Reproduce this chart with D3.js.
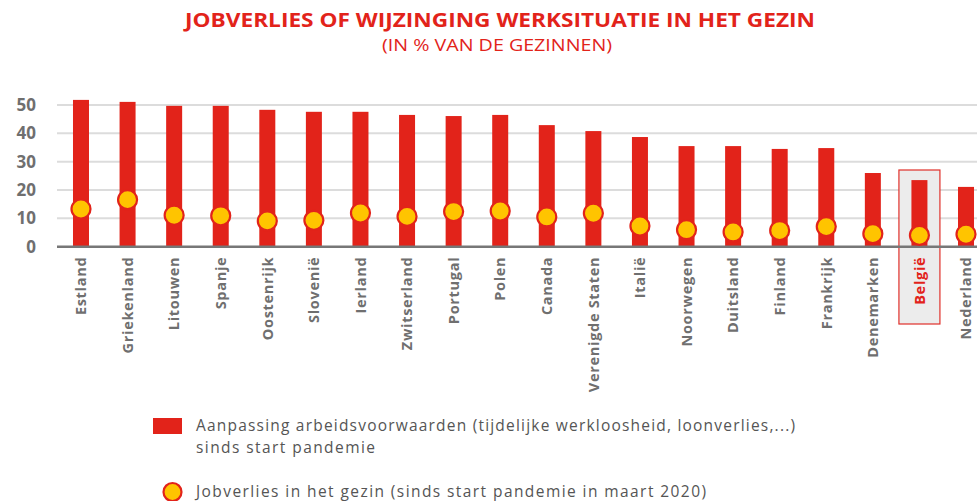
<!DOCTYPE html>
<html>
<head>
<meta charset="utf-8">
<script src="https://cdn.jsdelivr.net/npm/d3@7"></script>
<style>
  html, body { margin: 0; padding: 0; background: #fff; }
  svg { display: block; }
</style>
</head>
<body>
<svg id="chart" width="977" height="501"></svg>
<script>
const categories = ["Estland","Griekenland","Litouwen","Spanje","Oostenrijk","Slovenië","Ierland","Zwitserland","Portugal","Polen","Canada","Verenigde Staten","Italië","Noorwegen","Duitsland","Finland","Frankrijk","Denemarken","België","Nederland"];
const werkAanpassing = [51.8,51.1,49.7,49.7,48.3,47.6,47.6,46.5,46.1,46.5,42.9,40.8,38.7,35.5,35.5,34.5,34.8,26.0,23.5,21.1];
const jobverlies = [13.3,16.6,11.1,10.9,9.1,9.3,11.9,10.7,12.4,12.6,10.5,11.8,7.3,6.0,5.2,5.7,7.1,4.6,4.0,4.4];
const yTicks = [0,10,20,30,40,50];
const highlight = "België";
const title = "JOBVERLIES OF WIJZINGING WERKSITUATIE IN HET GEZIN";
const subtitle = "(IN % VAN DE GEZINNEN)";
const legendBar = ["Aanpassing arbeidsvoorwaarden (tijdelijke werkloosheid, loonverlies,...)", "sinds start pandemie"];
const legendDot = "Jobverlies in het gezin (sinds start pandemie in maart 2020)";

const RED = "#e2231a", YELLOW = "#ffc400", GREY = "#6f6f6f";
const svg = d3.select("#chart");

const x = d3.scaleBand().domain(categories).range([57.7, 989.3]).padding(0);
const y = d3.scaleLinear().domain([0, 50]).range([246.7, 105]);
const barW = 16;

// title
svg.append("text").attr("x", 500).attr("y", 27).attr("text-anchor", "middle")
  .attr("font-family", "Open Sans, sans-serif").attr("font-weight", 700).attr("font-size", 20)
  .attr("fill", RED).attr("textLength", 630).attr("lengthAdjust", "spacingAndGlyphs").text(title);
svg.append("text").attr("x", 497).attr("y", 51).attr("text-anchor", "middle")
  .attr("font-family", "Open Sans, sans-serif").attr("font-weight", 400).attr("font-size", 16.5)
  .attr("fill", RED).attr("textLength", 230).attr("lengthAdjust", "spacingAndGlyphs").text(subtitle);

// gridlines
svg.append("g").selectAll("line").data(yTicks.filter(d => d > 0)).join("line")
  .attr("x1", 57).attr("x2", 977).attr("y1", d => y(d)).attr("y2", d => y(d))
  .attr("stroke", "#dcdcdc").attr("stroke-width", 2);

// y axis labels
const yAxis = svg.append("g").attr("transform", "translate(36,0)")
  .call(d3.axisLeft(y).tickValues(yTicks).tickSize(0).tickPadding(0));
yAxis.select(".domain").remove();
yAxis.selectAll("text").attr("font-family", "Open Sans, sans-serif").attr("font-weight", 700)
  .attr("font-size", 17).attr("fill", GREY);

// highlight box
svg.append("rect")
  .attr("x", x(highlight) + x.bandwidth() / 2 - 20.5).attr("y", 170)
  .attr("width", 41).attr("height", 154)
  .attr("fill", "#ececec").attr("stroke", "#e0302a").attr("stroke-width", 1.2);

// bars
svg.append("g").selectAll("rect").data(categories).join("rect")
  .attr("x", d => x(d) + x.bandwidth() / 2 - barW / 2)
  .attr("y", (d, i) => y(werkAanpassing[i]))
  .attr("width", barW)
  .attr("height", (d, i) => y(0) - y(werkAanpassing[i]))
  .attr("fill", RED);

// baseline
svg.append("line").attr("x1", 57).attr("x2", 977).attr("y1", y(0)).attr("y2", y(0))
  .attr("stroke", "#777").attr("stroke-width", 2.5);

// dots
svg.append("g").selectAll("circle").data(categories).join("circle")
  .attr("cx", d => x(d) + x.bandwidth() / 2)
  .attr("cy", (d, i) => y(jobverlies[i]))
  .attr("r", 9.5)
  .attr("fill", YELLOW).attr("stroke", RED).attr("stroke-width", 2.2);

// x axis labels
const xAxis = svg.append("g").attr("transform", `translate(0,${y(0)})`)
  .call(d3.axisBottom(x).tickSize(0).tickPadding(0));
xAxis.select(".domain").remove();
xAxis.selectAll("text")
  .attr("transform", "translate(0,10) rotate(-90)")
  .attr("x", 0).attr("y", 0).attr("dy", "0.36em")
  .attr("text-anchor", "end")
  .attr("font-family", "Open Sans, sans-serif").attr("font-weight", 700).attr("font-size", 14.5)
  .attr("letter-spacing", 0.7)
  .attr("fill", d => d === highlight ? RED : GREY);

// legend
const lg = svg.append("g");
lg.append("rect").attr("x", 153).attr("y", 418).attr("width", 29).attr("height", 16).attr("fill", RED);
lg.append("text").attr("x", 196).attr("y", 431).attr("textLength", 599).text(legendBar[0]);
lg.append("text").attr("x", 196).attr("y", 452.5).attr("textLength", 179).text(legendBar[1]);
lg.append("circle").attr("cx", 172.5).attr("cy", 492).attr("r", 9).attr("fill", YELLOW)
  .attr("stroke", RED).attr("stroke-width", 2.2);
lg.append("text").attr("x", 196).attr("y", 497).attr("textLength", 510).text(legendDot);
lg.selectAll("text").attr("font-family", "Open Sans, sans-serif").attr("font-size", 15.5)
  .attr("lengthAdjust", "spacing").attr("fill", "#555");
</script>
</body>
</html>
